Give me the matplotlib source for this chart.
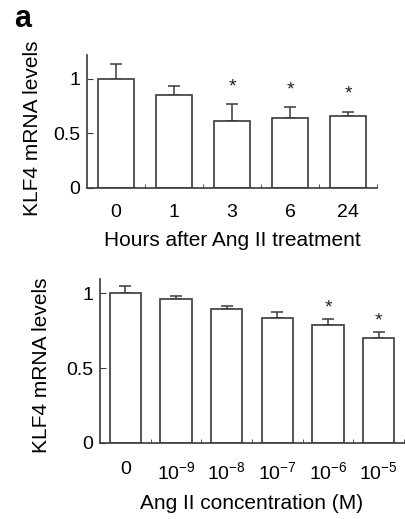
import matplotlib

matplotlib.use("Agg")
import matplotlib.pyplot as plt

plt.rcParams["font.family"] = ["Liberation Sans", "DejaVu Sans"]
plt.rcParams["mathtext.fontset"] = "custom"
plt.rcParams["mathtext.rm"] = "Liberation Sans"
plt.rcParams["mathtext.it"] = "Liberation Sans"

# panel 1: time course
hours_labels = ["0", "1", "3", "6", "24"]
hours_mean = [1.00, 0.853, 0.617, 0.642, 0.657]
hours_err = [0.14, 0.082, 0.15, 0.098, 0.043]
hours_star = [False, False, True, True, True]

# panel 2: dose response
conc_labels = ["0", r"$10^{-9}$", r"$10^{-8}$", r"$10^{-7}$", r"$10^{-6}$", r"$10^{-5}$"]
conc_mean = [1.00, 0.962, 0.893, 0.837, 0.788, 0.701]
conc_err = [0.049, 0.02, 0.022, 0.038, 0.038, 0.042]
conc_star = [False, False, False, False, True, True]

EDGE = "#3a3a3a"
TICK_FS = 14
LABEL_FS = 15


def draw_panel(ax, labels, means, errs, stars, ymax, star_gap, xlabel, tick_pad, label_pad, ylab_xy):
    x = list(range(len(labels)))
    ax.bar(x, means, width=0.62, color="white", edgecolor=EDGE, linewidth=1.2, zorder=2)
    ax.errorbar(x, means, yerr=[[0] * len(errs), errs], fmt="none", ecolor=EDGE,
                elinewidth=1.1, capsize=4, capthick=1.1, zorder=1)
    for xi, m, e, s in zip(x, means, errs, stars):
        if s:
            ax.text(xi, m + e + star_gap, "*", ha="center", va="center", fontsize=14, color="#222222")
    ax.set_xlim(-0.5, len(labels) - 0.5)
    ax.set_ylim(0, ymax)
    ax.set_xticks(x)
    ax.set_xticklabels(labels, fontsize=TICK_FS)
    ax.set_xticks([i + 0.5 for i in x], minor=True)
    ax.tick_params(axis="x", which="major", length=0, pad=tick_pad)
    ax.tick_params(axis="x", which="minor", direction="in", length=3, color=EDGE)
    ax.set_yticks([0, 0.5, 1])
    ax.set_yticklabels(["0", "0.5", "1"], fontsize=TICK_FS)
    ax.tick_params(axis="y", direction="in", length=4, color=EDGE, pad=5)
    for side in ("top", "right"):
        ax.spines[side].set_visible(False)
    for side in ("left", "bottom"):
        ax.spines[side].set_color(EDGE)
        ax.spines[side].set_linewidth(1.2)
    ax.set_ylabel("KLF4 mRNA levels", fontsize=LABEL_FS)
    ax.yaxis.set_label_coords(*ylab_xy)
    ax.set_xlabel(xlabel, fontsize=LABEL_FS, labelpad=label_pad)


fig = plt.figure(figsize=(4.05, 5.19), dpi=100)
ax1 = fig.add_axes([0.2148, 0.6378, 0.7162, 0.2563])
ax2 = fig.add_axes([0.2469, 0.147, 0.7506, 0.3148])

draw_panel(ax1, hours_labels, hours_mean, hours_err, hours_star, 1.22, 0.16,
           "Hours after Ang II treatment", 11.5, 7, (-0.155, 0.45))
draw_panel(ax2, conc_labels, conc_mean, conc_err, conc_star, 1.094, 0.075,
           "Ang II concentration (M)", 13.5, 8, (-0.16, 0.476))

fig.text(0.035, 0.963, "a", fontsize=22, fontweight="bold", va="center", ha="left")

fig.savefig("out.png", dpi=100)
plt.close(fig)
